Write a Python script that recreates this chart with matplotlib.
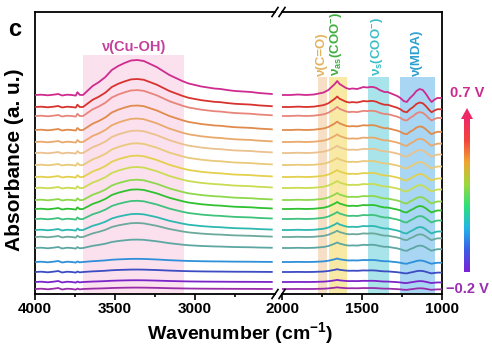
import matplotlib.pyplot as plt
import numpy as np
from matplotlib.colors import LinearSegmentedColormap
from matplotlib.patches import Polygon

plt.rcParams['font.family'] = ['Liberation Sans', 'DejaVu Sans']
plt.rcParams['font.weight'] = 'bold'
plt.rcParams['mathtext.fontset'] = 'custom'
plt.rcParams['mathtext.rm'] = 'Liberation Sans:bold'
plt.rcParams['mathtext.it'] = 'Liberation Sans:bold'
plt.rcParams['mathtext.bf'] = 'Liberation Sans:bold'
plt.rcParams['mathtext.default'] = 'rm'

W, H = 492, 346

# potential steps, top trace (0.7 V) to bottom trace (-0.2 V)
potentials = [0.70, 0.65, 0.60, 0.55, 0.50, 0.45, 0.40, 0.35, 0.30, 0.25,
              0.20, 0.15, 0.10, 0.05, 0.00, -0.05, -0.10, -0.15, -0.20]
trace_colors = ['#cf2a8f', '#d8322e', '#e8857a', '#e08b4c', '#eaa96c', '#ebc18d',
                '#e9c97a', '#e4d04e', '#c9dc52', '#8ed84c', '#2fc12f', '#3ec27c',
                '#2db8b0', '#6aa99c', '#5da7a2', '#2f8fd8', '#3c4cc2', '#7b24c8', '#9a2caa']
offsets = [199, 187, 178, 164, 152, 141, 129, 117, 106, 94,
           85, 75, 64, 57, 46, 32, 22, 12, 5]
# height of the O-H band and of the fingerprint features, relative to the top trace
oh_scale = [1.0, 0.80, 0.74, 0.70, 0.67, 0.64, 0.62, 0.61, 0.60, 0.58,
            0.56, 0.52, 0.46, 0.40, 0.24, 0.09, 0.07, 0.05, 0.04]
fp_scale = [1.0, 0.75, 0.65, 0.60, 0.55, 0.52, 0.50, 0.50, 0.50, 0.50,
            0.50, 0.50, 0.50, 0.45, 0.40, 0.25, 0.20, 0.15, 0.12]

# high-wavenumber region, top trace
nu_hi = [4000, 3960, 3920, 3880, 3855, 3830, 3800, 3770, 3745, 3735, 3720, 3700,
         3680, 3660, 3640, 3620, 3600, 3560, 3520, 3480, 3440, 3400, 3360, 3320,
         3280, 3240, 3200, 3160, 3120, 3080, 3040, 3000, 2960, 2920, 2880, 2840,
         2800, 2750, 2700, 2650, 2600, 2560, 2520]
oh_band = [0, 0, 0, 0, 0, 0, 0, 0, 0, 2.5, 0.5, 0,
           3, 6, 9, 11, 13, 18, 25, 29, 32, 34.5, 35, 34,
           31, 28, 24, 20, 17, 14, 11.5, 10, 8.5, 7.5, 6.5, 6,
           5, 4, 3.5, 3, 2, 1.5, 1]
vapour = [0, 0.3, -0.3, 0.4, 1.0, -0.5, 0.3, 0, -0.6, 0.3, -0.4, 0,
          0, 0, 0, 0, 0, 0, 0, 0, 0, 0, 0, 0,
          0, 0, 0, 0, 0, 0, 0, 0, 0, 0, 0, 0,
          0, 0, 0, 0, 0, 0, 0]

# fingerprint region, top trace
nu_lo = [1995, 1950, 1900, 1850, 1800, 1770, 1740, 1710, 1690, 1670, 1655, 1640,
         1620, 1600, 1580, 1560, 1530, 1510, 1490, 1470, 1450, 1430, 1410, 1390,
         1360, 1340, 1310, 1280, 1260, 1240, 1220, 1200, 1180, 1160, 1140, 1120,
         1100, 1080, 1065, 1050, 1030, 1000]
fp_band = [0, 0, 0.5, 0, 0.5, 1.5, 2.5, 5, 8, 11, 14, 11,
           9, 7, 6, 6.5, 6, 7, 8, 7.5, 8, 8, 7, 5,
           3, 3, 1, -1, -3, -6, -7, -3, 0, 4, 6, 5,
           1, -4, -7, -5, -3, -3]

fig = plt.figure(figsize=(W / 100, H / 100), dpi=100)


def px_box(x0, y0, x1, y1):
    return [x0 / W, 1 - y1 / H, (x1 - x0) / W, (y1 - y0) / H]


ax1 = fig.add_axes(px_box(35, 12, 275, 294))
ax2 = fig.add_axes(px_box(282, 12, 442, 294))
ytop = 282

for i in range(len(potentials)):
    y_hi = [offsets[i] + oh_scale[i] * b + v for b, v in zip(oh_band, vapour)]
    y_lo = [offsets[i] + fp_scale[i] * b for b in fp_band]
    ax1.plot(nu_hi, y_hi, color=trace_colors[i], lw=1.3, zorder=3)
    ax2.plot(nu_lo, y_lo, color=trace_colors[i], lw=1.3, zorder=3)

# band assignments
ax1.axvspan(3700, 3070, ymax=239 / ytop, color='#fbe0ee', lw=0, zorder=1)
ax2.axvspan(1775, 1720, ymax=217 / ytop, color='#f6dfc4', lw=0, zorder=1)
ax2.axvspan(1705, 1595, ymax=217 / ytop, color='#f8eaa4', lw=0, zorder=1)
ax2.axvspan(1462, 1332, ymax=217 / ytop, color='#a9e4ea', lw=0, zorder=1)
ax2.axvspan(1262, 1045, ymax=217 / ytop, color='#a8d6f3', lw=0, zorder=1)

ax1.set_xlim(4000, 2500)
ax2.set_xlim(2000, 1000)
for ax in (ax1, ax2):
    ax.set_ylim(0, ytop)
    ax.set_yticks([])
    ax.tick_params(axis='x', direction='out', length=4, width=1.2, labelsize=11, pad=2)
    ax.tick_params(axis='x', which='minor', direction='out', length=2.5, width=1.2)
    for s in ax.spines.values():
        s.set_linewidth(1.3)
ax1.set_xticks([4000, 3500, 3000])
ax1.set_xticks([3750, 3250, 2750], minor=True)
ax2.set_xticks([2000, 1500, 1000])
ax2.set_xticks([1750, 1250], minor=True)
ax1.spines['right'].set_visible(False)
ax2.spines['left'].set_visible(False)

# overlay in pixel units for break marks and the potential arrow
ov = fig.add_axes([0, 0, 1, 1])
ov.set_xlim(0, W)
ov.set_ylim(H, 0)
ov.axis('off')
for yb in (12, 294):
    for xb in (275, 282):
        ov.plot([xb - 3, xb + 3], [yb + 4.5, yb - 4.5], color='black', lw=1.2)

arrow_cmap = LinearSegmentedColormap.from_list(
    'potential', ['#7a22d6', '#3a5ee6', '#22b6e6', '#2ee07a', '#9ed83e',
                  '#f0a632', '#f2463e', '#ee2a66'])
grad = np.linspace(1, 0, 200).reshape(-1, 1)
ov.imshow(grad, cmap=arrow_cmap, extent=(464, 470, 272, 118), aspect='auto', zorder=2)
ov.add_patch(Polygon([[461, 119], [473, 119], [467, 108]], closed=True,
                     color='#ee2a66', lw=0, zorder=3))
ov.set_xlim(0, W)
ov.set_ylim(H, 0)

fig.text(467 / W, 1 - 93 / H, f'{potentials[0]:.1f} V', color='#cc2a8c',
         fontsize=10.5, ha='center', va='center')
fig.text(467 / W, 1 - 289 / H, f'\u2212{abs(potentials[-1]):.1f} V', color='#9a2cb2',
         fontsize=10.5, ha='center', va='center')

fig.text(134 / W, 1 - 47 / H, 'ν(Cu-OH)', color='#c4429c', fontsize=10.5,
         ha='center', va='center')
band_labels = ['ν(C=O)', r'$ν_{as}(COO^{-})$', r'$ν_{s}(COO^{-})$', 'ν(MDA)']
band_label_x = [322, 337, 378, 417]
band_label_colors = ['#e2b45e', '#3faf3f', '#3dbfc6', '#2c9fd0']
for lab, xl, cl in zip(band_labels, band_label_x, band_label_colors):
    fig.text(xl / W, 1 - 76 / H, lab, color=cl, fontsize=9.5, rotation=90,
             ha='center', va='bottom')

fig.text(15 / W, 1 - 30 / H, 'c', fontsize=17, ha='center', va='center')
fig.text(15 / W, 1 - 160 / H, 'Absorbance (a. u.)', fontsize=15, rotation=90,
         ha='center', va='center')
fig.text(240 / W, 1 - 333 / H, 'Wavenumber (cm$^{-1}$)', fontsize=14,
         ha='center', va='center')

fig.savefig('out.png', dpi=100)
